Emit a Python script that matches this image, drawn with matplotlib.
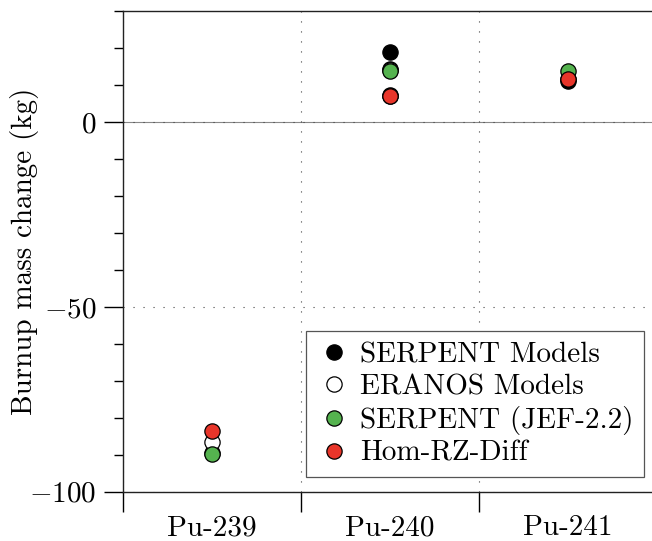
import matplotlib
matplotlib.use("Agg")
import matplotlib.pyplot as plt
from matplotlib.ticker import MultipleLocator, FixedLocator

plt.rcParams['font.family'] = 'cmr10'
plt.rcParams['mathtext.fontset'] = 'cm'
plt.rcParams['axes.formatter.use_mathtext'] = True

isotopes = ['Pu-239', 'Pu-240', 'Pu-241']

# burnup mass change (kg), one list of model values per isotope
serpent_models = [[-89.5], [19.0, 14.5, 7.4], [11.2]]
eranos_models = [[-86.5], [14.0, 7.0], [11.6]]
serpent_jef22 = [[-89.8], [13.8], [13.9]]
hom_rz_diff = [[-83.5], [7.0], [11.8]]

series = [
    ('SERPENT Models', serpent_models, 'black'),
    ('ERANOS Models', eranos_models, 'white'),
    ('SERPENT (JEF-2.2)', serpent_jef22, '#55b34f'),
    ('Hom-RZ-Diff', hom_rz_diff, '#e8352a'),
]

fig = plt.figure(figsize=(6.52, 5.41), dpi=100)
ax = fig.add_axes([0.188, 0.091, 0.820, 0.888])

for name, vals, col in series:
    xs, ys = [], []
    for i, v in enumerate(vals):
        xs += [i + 0.5] * len(v)
        ys += v
    ax.plot(xs, ys, 'o', ms=11, mfc=col, mec='black', mew=0.9,
            label=name, zorder=3)

ax.axhline(0, color='#888888', lw=0.8, zorder=1)

ax.set_xlim(0, 3)
ax.set_ylim(-100, 30)

ax.xaxis.set_major_locator(FixedLocator([0, 1, 2, 3]))
ax.xaxis.set_minor_locator(FixedLocator([0.5, 1.5, 2.5]))
ax.set_xticklabels([], minor=False)
ax.set_xticklabels(isotopes, minor=True)
ax.tick_params(axis='x', which='major', direction='out', length=14.5, width=1.0)
ax.tick_params(axis='x', which='minor', length=0, pad=16.5, labelsize=21)

ax.yaxis.set_major_locator(MultipleLocator(50))
ax.yaxis.set_minor_locator(MultipleLocator(10))
ax.tick_params(axis='y', which='major', direction='out', length=14, width=1.0,
               labelsize=21, pad=5)
ax.tick_params(axis='y', which='minor', direction='out', length=6.5, width=1.0)

ax.grid(True, which='major', color='#444444', lw=0.8, linestyle=(0, (1, 8)))

for side in ['left', 'top', 'bottom']:
    ax.spines[side].set_linewidth(1.0)
    ax.spines[side].set_color('#222222')
ax.spines['right'].set_visible(False)

ax.set_ylabel('Burnup mass change (kg)', fontsize=21)
ax.yaxis.set_label_coords(-0.183, 0.5)
ax.yaxis.label.set_va('center')

leg = ax.legend(loc='lower right', bbox_to_anchor=(0.975, 0.03), fontsize=21,
                frameon=True, fancybox=False, edgecolor='#555555',
                framealpha=1, borderpad=0.36, labelspacing=0.19,
                handletextpad=0.3, handlelength=1.2, borderaxespad=0)
leg.get_frame().set_linewidth(0.9)

fig.savefig('out.png', dpi=100)
